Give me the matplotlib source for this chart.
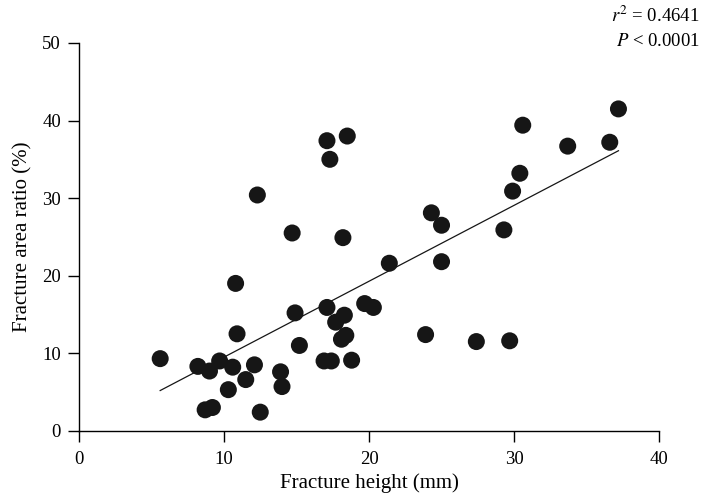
import numpy as np
import matplotlib
matplotlib.use("Agg")
from matplotlib import pyplot as plt

# Fracture height (mm) vs fracture area ratio (%)
height = [5.6, 8.2, 8.7, 9.2, 9.0, 9.7, 10.3, 10.6, 10.9, 10.8,
          11.5, 12.1, 12.3, 12.5, 13.9, 14.0, 14.7, 14.9, 15.2, 16.9,
          17.1, 17.1, 17.3, 17.4, 17.7, 18.1, 18.3, 18.4, 18.2, 18.5,
          18.8, 19.7, 20.3, 21.4, 23.9, 24.3, 25.0, 25.0, 27.4, 29.3,
          29.7, 29.9, 30.4, 30.6, 33.7, 36.6, 37.2]
area = [9.3, 8.3, 2.7, 3.0, 7.7, 9.0, 5.3, 8.2, 12.5, 19.0,
        6.6, 8.5, 30.4, 2.4, 7.6, 5.7, 25.5, 15.2, 11.0, 9.0,
        15.9, 37.4, 35.0, 9.0, 14.0, 11.8, 14.9, 12.3, 24.9, 38.0,
        9.1, 16.4, 15.9, 21.6, 12.4, 28.1, 26.5, 21.8, 11.5, 25.9,
        11.6, 30.9, 33.2, 39.4, 36.7, 37.2, 41.5]

x_ticks = [0, 10, 20, 30, 40]
y_ticks = [0, 10, 20, 30, 40, 50]

plt.rcParams['font.family'] = ['Liberation Serif', 'DejaVu Serif']
plt.rcParams['mathtext.fontset'] = 'stix'

fig = plt.figure(figsize=(7.07, 4.94), dpi=100)
ax = fig.add_axes([0.1117, 0.128, 0.8205, 0.785])

ax.scatter(height, area, s=150, c="#161616", edgecolors="none", zorder=3,
           clip_on=False)

# least-squares fit line
slope, intercept = np.polyfit(height, area, 1)
xs = np.array([min(height), max(height)])
ax.plot(xs, slope * xs + intercept, c="#161616", lw=0.9, zorder=2)

ax.set_xlim(0, 40)
ax.set_ylim(0, 50)
ax.set_xticks(x_ticks)
ax.set_yticks(y_ticks)
for side in ["top", "right"]:
    ax.spines[side].set_visible(False)
for side in ["left", "bottom"]:
    ax.spines[side].set_linewidth(1.0)
ax.tick_params(axis="both", direction="out", length=8, width=1.0,
               labelsize=13.5, pad=5)
ax.tick_params(axis="x", pad=6.5)

ax.set_xlabel("Fracture height (mm)", fontsize=15, labelpad=4)
ax.set_ylabel("Fracture area ratio (%)", fontsize=15, labelpad=7)

fig.text(0.99, 0.968, "$r^2$ = 0.4641", ha="right", va="center", fontsize=13.5)
fig.text(0.99, 0.916, "$P$ < 0.0001", ha="right", va="center", fontsize=13.5)

fig.savefig("out.png", dpi=100)
